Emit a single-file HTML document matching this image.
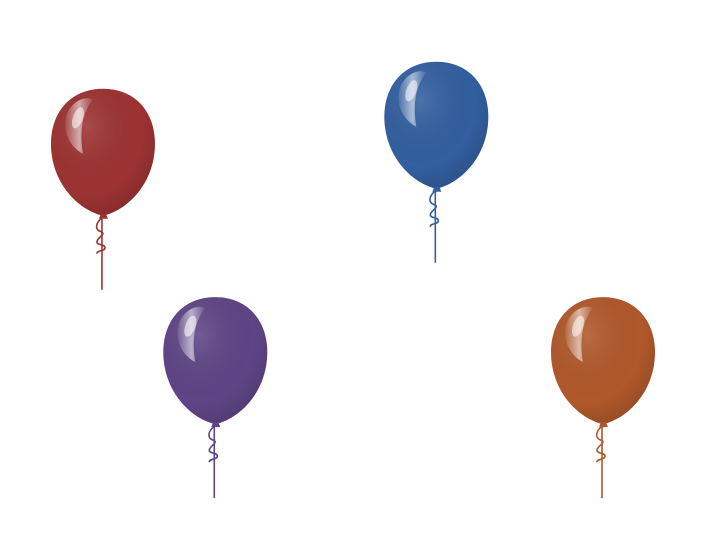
<!DOCTYPE html>
<html><head><meta charset="utf-8"><style>
html,body{margin:0;padding:0;background:#fff;width:720px;height:540px;overflow:hidden}
svg{display:block}
</style></head><body>
<svg id="chart" width="720" height="540" viewBox="0 0 720 540">
<defs>
<radialGradient id="shade" cx="0.35" cy="0.3" r="0.75">
<stop offset="0" stop-color="#fff" stop-opacity="0.12"/>
<stop offset="0.7" stop-color="#000" stop-opacity="0"/>
<stop offset="1" stop-color="#000" stop-opacity="0.15"/>
</radialGradient>
<linearGradient id="shine" x1="0" y1="0" x2="1" y2="0">
<stop offset="0" stop-color="#fff" stop-opacity="0.1"/>
<stop offset="0.5" stop-color="#fff" stop-opacity="0.55"/>
<stop offset="1" stop-color="#fff" stop-opacity="0.05"/>
</linearGradient>
</defs>
</svg>
<script>
const categories = ['red', 'blue', 'purple', 'orange'];
const xValues = [14.3, 60.6, 29.9, 83.75];
const yValues = [71.9, 76.9, 33.3, 33.3];
const colors = ['#9c3332', '#335f9f', '#5f4586', '#b0582b'];

const xScale = v => v / 100 * 720;
const yScale = v => 540 - v / 100 * 540;
const NS = 'http://www.w3.org/2000/svg';
const svg = document.getElementById('chart');

function mk(tag, attrs, parent) {
  const e = document.createElementNS(NS, tag);
  for (const k in attrs) e.setAttribute(k, attrs[k]);
  parent.appendChild(e);
  return e;
}

categories.forEach((c, i) => {
  const cx = xScale(xValues[i]), cy = yScale(yValues[i]);
  const g = mk('g', {transform: `translate(${cx},${cy})`}, svg);
  
  
  const col = colors[i];
  const str = mk('path', {d: 'M-1,66 L-1,138', stroke: col, 'stroke-width': 1.6, fill: 'none'}, g);
  
  
  const rib = mk('path', {d: 'M-1,66 C-8,72 -8,78 -2,80 C4,82 -6,86 -6,90 C-6,94 2,92 2,96 C2,100 -6,98 -6,102', stroke: col, 'stroke-width': 1.6, fill: 'none'}, g);
  
  
  const body = 'M0,-63 C32,-63 52,-40 52,-8 C52,30 26,58 0,64 C-26,58 -52,30 -52,-8 C-52,-40 -32,-63 0,-63 Z';
  const b = mk('path', {d: body, fill: col}, g);
  
  
  mk('path', {d: body, fill: 'url(#shade)'}, g);
  mk('path', {d: 'M-2,62 L3,62 L5,67 L-4,67 Z', fill: col}, g);
  const sh = mk('path', {d: 'M-36,-38 C-30,-52 -16,-56 -10,-52 C-20,-40 -24,-22 -20,2 C-32,-4 -42,-20 -36,-38 Z', fill: 'url(#shine)'}, g);
  
  
  mk('ellipse', {cx: -25, cy: -34, rx: 5, ry: 11, fill: '#fff', 'fill-opacity': 0.55, transform: 'rotate(20 -25 -34)'}, g);
});
</script>
</body></html>
